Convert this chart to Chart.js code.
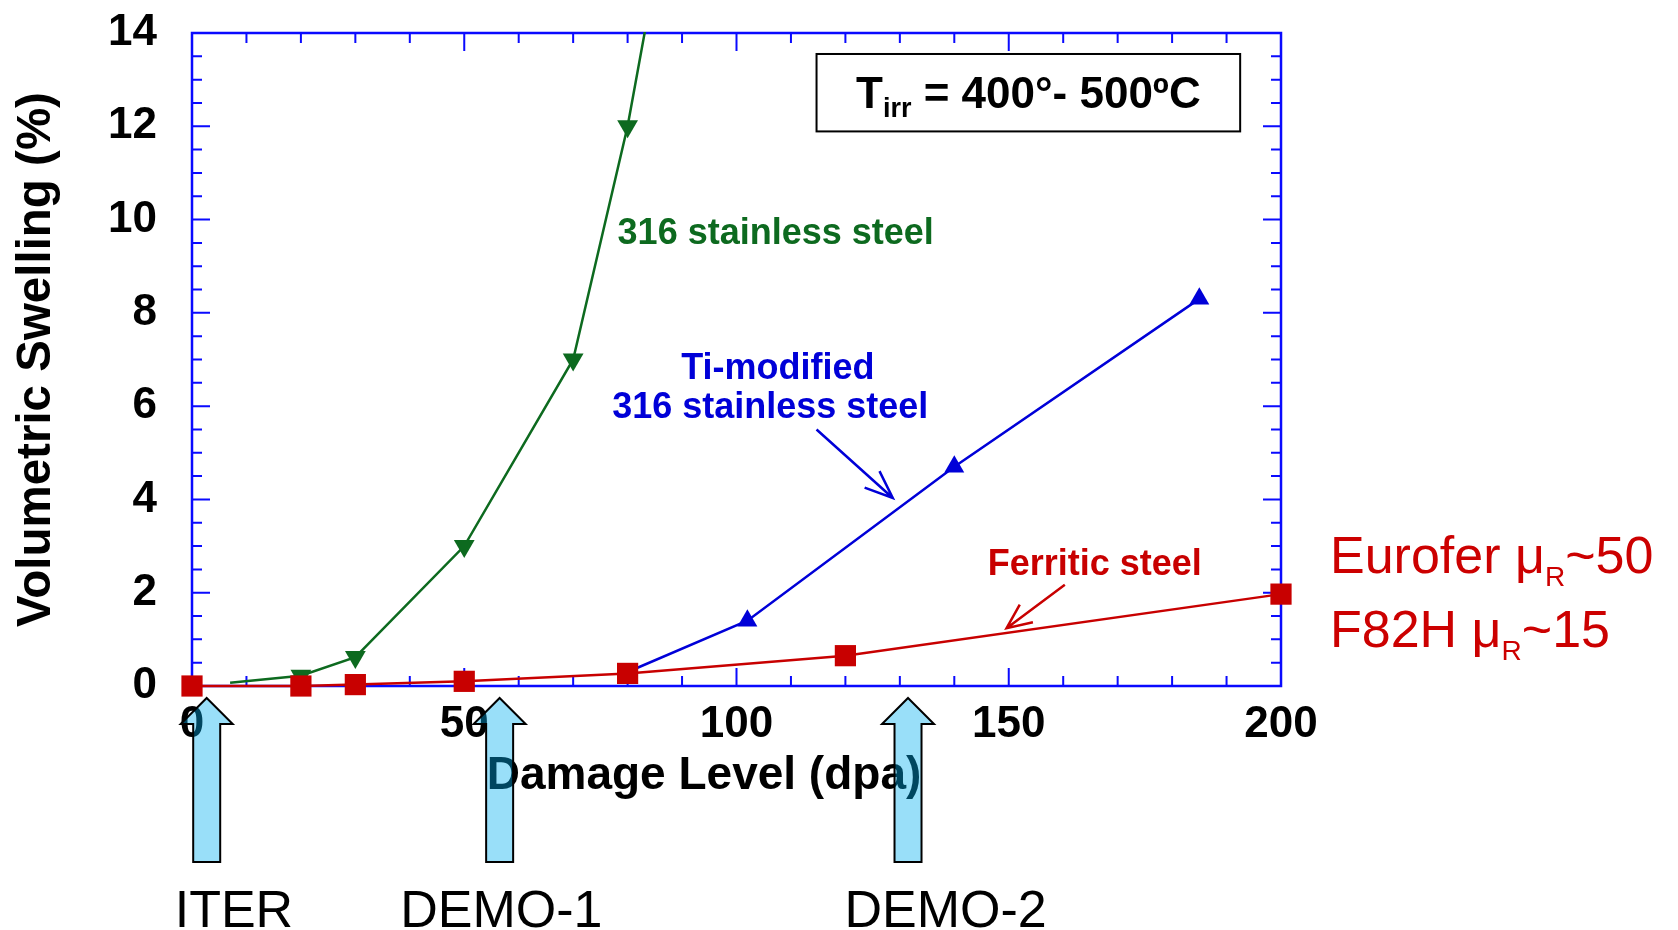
<!DOCTYPE html>
<html>
<head>
<meta charset="utf-8">
<script src="https://cdn.jsdelivr.net/npm/chart.js@4.4.1/dist/chart.umd.min.js"></script>
<style>
  body { margin: 0; background: #fff; }
  #wrap { width: 1678px; height: 930px; }
</style>
</head>
<body>
<div id="wrap"><canvas id="chart" width="1678" height="930"></canvas></div>
<script>
const FONT = '"Liberation Sans", Arial, sans-serif';
const AXIS_BLUE = '#0a0aff';
const GREEN = '#0d6a1f';
const BLUE = '#0000d8';
const RED = '#c80000';

// swelling curves (dpa, %)
const ferriticDpa = [0, 20, 30, 50, 80, 120, 200];
const ferriticSwell = [0, 0, 0.03, 0.1, 0.27, 0.65, 1.97];
const ss316Dpa = [7, 20, 30, 50, 70, 80, 85];
const ss316Swell = [0.07, 0.22, 0.62, 3.0, 7.0, 12.0, 15.2];
const tiModDpa = [80, 102, 140, 185];
const tiModSwell = [0.3, 1.4, 4.7, 8.3];

// axis tick labels
const xTickValues = [0, 50, 100, 150, 200];
const yTickValues = [0, 2, 4, 6, 8, 10, 12, 14];

// machines marked below the axis
const machineNames = ['ITER', 'DEMO-1', 'DEMO-2'];
const machineDpa = [2.7, 56.5, 131.5];
const machineLabelDpa = [7.7, 56.8, 138.4];

Chart.defaults.font.family = FONT;

function toPoints(xs, ys) {
  return xs.map((v, i) => ({ x: v, y: ys[i] }));
}

function richText(ctx, parts, x, y, align, color) {
  let total = 0;
  parts.forEach(p => {
    ctx.font = (p.bold ? 'bold ' : '') + p.size + 'px ' + FONT;
    p.w = ctx.measureText(p.text).width;
    total += p.w;
  });
  let cx = align === 'center' ? x - total / 2 : x;
  ctx.fillStyle = color;
  ctx.textAlign = 'left';
  ctx.textBaseline = 'alphabetic';
  parts.forEach(p => {
    ctx.font = (p.bold ? 'bold ' : '') + p.size + 'px ' + FONT;
    ctx.fillText(p.text, cx, y + (p.dy || 0));
    cx += p.w;
  });
}

function lineArrow(ctx, x1, y1, x2, y2, len, ang) {
  const a = Math.atan2(y1 - y2, x1 - x2);
  ctx.beginPath();
  ctx.moveTo(x1, y1);
  ctx.lineTo(x2, y2);
  ctx.moveTo(x2 + len * Math.cos(a + ang), y2 + len * Math.sin(a + ang));
  ctx.lineTo(x2, y2);
  ctx.lineTo(x2 + len * Math.cos(a - ang), y2 + len * Math.sin(a - ang));
  ctx.stroke();
}

// blue box with inward ticks on all four sides
const framePlugin = {
  id: 'frame',
  beforeDatasetsDraw(chart) {
    const { ctx, chartArea: a, scales: { x, y } } = chart;
    ctx.save();
    ctx.strokeStyle = AXIS_BLUE;
    ctx.lineWidth = 2;
    ctx.beginPath();
    for (let v = 0; v <= 200; v += 10) {
      const px = x.getPixelForValue(v);
      const len = v % 50 === 0 ? 18 : 10;
      ctx.moveTo(px, a.bottom); ctx.lineTo(px, a.bottom - len);
      ctx.moveTo(px, a.top); ctx.lineTo(px, a.top + len);
    }
    for (let v = 0; v <= 14; v += 0.5) {
      const py = y.getPixelForValue(v);
      const len = v % 2 === 0 ? 18 : 10;
      ctx.moveTo(a.left, py); ctx.lineTo(a.left + len, py);
      ctx.moveTo(a.right, py); ctx.lineTo(a.right - len, py);
    }
    ctx.stroke();
    ctx.lineWidth = 2.5;
    ctx.strokeRect(a.left, a.top, a.right - a.left, a.bottom - a.top);
    ctx.restore();
  }
};

// labels, call-out arrows, temperature box, machine arrows
const notesPlugin = {
  id: 'notes',
  afterDraw(chart) {
    const { ctx, chartArea: a, scales: { x, y } } = chart;
    const X = v => x.getPixelForValue(v);
    const Y = v => y.getPixelForValue(v);
    ctx.save();

    // x axis title (sits left of centre in the original)
    richText(ctx, [{ text: 'Damage Level (dpa)', size: 46, bold: true }], 704, 789, 'center', '#000');

    // temperature box
    ctx.strokeStyle = '#000';
    ctx.lineWidth = 2;
    ctx.strokeRect(X(114.7), Y(13.55), X(192.5) - X(114.7), Y(11.89) - Y(13.55));
    richText(ctx, [
      { text: 'T', size: 44, bold: true },
      { text: 'irr', size: 27, bold: true, dy: 9 },
      { text: ' = 400°- 500ºC', size: 44, bold: true }
    ], X(153.6), Y(12.4), 'center', '#000');

    // curve labels
    richText(ctx, [{ text: '316 stainless steel', size: 36, bold: true }], X(107.2), Y(9.47), 'center', GREEN);
    richText(ctx, [{ text: 'Ti-modified', size: 36, bold: true }], X(107.6), Y(6.59), 'center', BLUE);
    richText(ctx, [{ text: '316 stainless steel', size: 36, bold: true }], X(106.2), Y(5.75), 'center', BLUE);
    richText(ctx, [{ text: 'Ferritic steel', size: 36, bold: true }], X(165.8), Y(2.37), 'center', RED);

    ctx.lineWidth = 2.5;
    ctx.strokeStyle = BLUE;
    lineArrow(ctx, X(114.7), Y(5.5), X(128.7), Y(4.03), 30, 0.38);
    ctx.strokeStyle = RED;
    lineArrow(ctx, X(160.3), Y(2.17), X(149.6), Y(1.24), 27, 0.42);

    // steel grades on the right
    const ex = a.right + 49;
    richText(ctx, [
      { text: 'Eurofer μ', size: 52 },
      { text: 'R', size: 28, dy: 13 },
      { text: '~50', size: 52 }
    ], ex, 573, 'left', '#cc0000');
    richText(ctx, [
      { text: 'F82H μ', size: 52 },
      { text: 'R', size: 28, dy: 13 },
      { text: '~15', size: 52 }
    ], ex, 647, 'left', '#cc0000');

    // machine labels and block arrows
    machineNames.forEach((name, i) => {
      richText(ctx, [{ text: name, size: 52 }], X(machineLabelDpa[i]), 927, 'center', '#000');
    });
    machineDpa.forEach(d => {
      const cx = X(d);
      const tip = a.bottom + 12, head = a.bottom + 38, end = a.bottom + 176;
      ctx.beginPath();
      ctx.moveTo(cx, tip);
      ctx.lineTo(cx + 26, head);
      ctx.lineTo(cx + 13.5, head);
      ctx.lineTo(cx + 13.5, end);
      ctx.lineTo(cx - 13.5, end);
      ctx.lineTo(cx - 13.5, head);
      ctx.lineTo(cx - 26, head);
      ctx.closePath();
      ctx.fillStyle = 'rgba(0, 176, 240, 0.4)';
      ctx.fill();
      ctx.strokeStyle = '#000';
      ctx.lineWidth = 2;
      ctx.stroke();
    });
    ctx.restore();
  }
};

new Chart(document.getElementById('chart'), {
  type: 'line',
  data: {
    datasets: [
      {
        label: 'Ferritic steel',
        data: toPoints(ferriticDpa, ferriticSwell),
        borderColor: RED,
        backgroundColor: RED,
        borderWidth: 2.5,
        pointStyle: 'rect',
        pointRadius: 15,
        pointBorderWidth: 0,
        tension: 0,
        clip: false
      },
      {
        label: 'Ti-modified 316 stainless steel',
        data: toPoints(tiModDpa, tiModSwell),
        borderColor: BLUE,
        backgroundColor: BLUE,
        borderWidth: 2.5,
        pointStyle: 'triangle',
        pointRadius: [0, 11.5, 11.5, 11.5],
        pointBorderWidth: 0,
        tension: 0
      },
      {
        label: '316 stainless steel',
        data: toPoints(ss316Dpa, ss316Swell),
        borderColor: GREEN,
        backgroundColor: GREEN,
        borderWidth: 2.5,
        pointStyle: 'triangle',
        rotation: 180,
        pointRadius: [0, 12, 12, 12, 12, 12, 0],
        pointBorderWidth: 0,
        tension: 0,
        clip: { left: false, right: false, bottom: false, top: 1 }
      }
    ]
  },
  options: {
    responsive: false,
    animation: false,
    events: [],
    layout: { padding: { left: 0, top: 33, right: 397, bottom: 0 } },
    plugins: { legend: { display: false }, tooltip: { enabled: false } },
    scales: {
      x: {
        type: 'linear',
        min: 0,
        max: 200,
        afterBuildTicks: s => { s.ticks = xTickValues.map(v => ({ value: v })); },
        afterFit: s => { s.height = 244; s.paddingLeft = 0; s.paddingRight = 0; },
        ticks: { color: '#000', font: { size: 44, weight: 'bold' }, padding: 4, maxRotation: 0 },
        grid: { display: false },
        border: { display: false }
      },
      y: {
        type: 'linear',
        min: 0,
        max: 14,
        afterBuildTicks: s => { s.ticks = yTickValues.map(v => ({ value: v })); },
        afterFit: s => { s.width = 192; s.paddingTop = 0; s.paddingBottom = 0; },
        ticks: { color: '#000', font: { size: 44, weight: 'bold' }, padding: 27, labelOffset: 0 },
        grid: { display: false },
        border: { display: false },
        title: {
          display: true,
          text: 'Volumetric Swelling (%)',
          color: '#000',
          font: { size: 47.5, weight: 'bold' },
          padding: { top: 8, bottom: 0 }
        }
      }
    }
  },
  plugins: [framePlugin, notesPlugin]
});
</script>
</body>
</html>
